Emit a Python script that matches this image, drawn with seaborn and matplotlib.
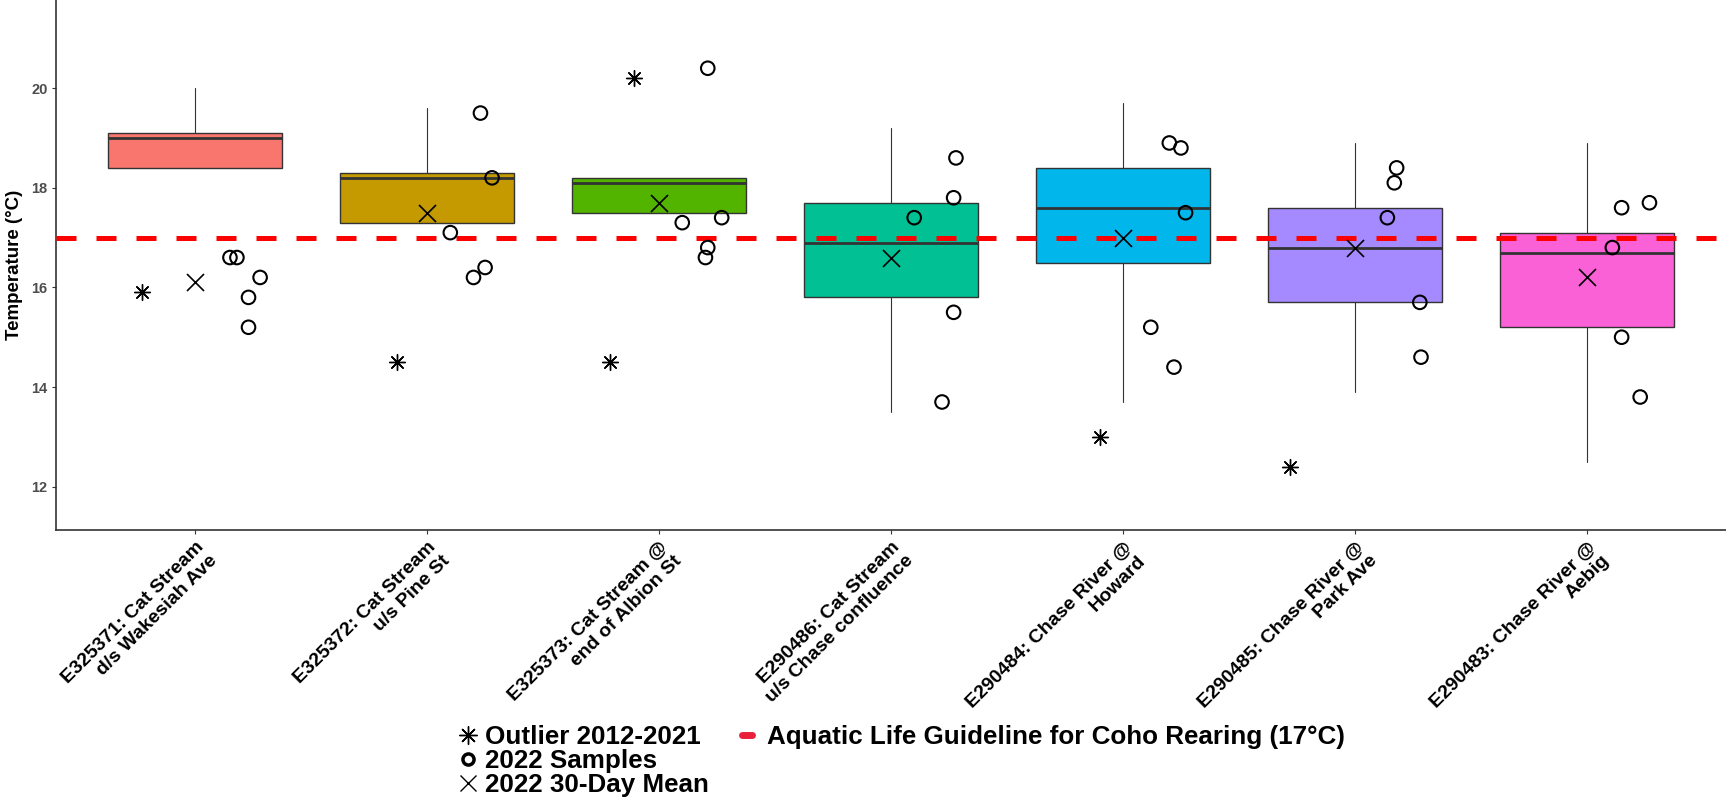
import numpy as np
import pandas as pd
import matplotlib
matplotlib.use("Agg")
import matplotlib.pyplot as plt
from matplotlib.lines import Line2D
import seaborn as sns

sns.set_theme(style="white")
plt.rcParams['font.family'] = ['Liberation Sans', 'DejaVu Sans']
plt.rcParams['text.color'] = 'black'
plt.rcParams['axes.labelcolor'] = 'black'

# ---------------- data ----------------
stations = [
    "E325371: Cat Stream\nd/s Wakesiah Ave",
    "E325372: Cat Stream\nu/s Pine St",
    "E325373: Cat Stream @\nend of Albion St",
    "E290486: Cat Stream\nu/s Chase confluence",
    "E290484: Chase River @\nHoward",
    "E290485: Chase River @\nPark Ave",
    "E290483: Chase River @\nAebig",
]
box_colors = ["#F8766D", "#C49A00", "#53B400", "#00C094", "#00B6EB", "#A58AFF", "#FB61D7"]

whisk_hi = [20.0, 19.6, 18.2, 19.2, 19.7, 18.9, 18.9]
q3 =       [19.1, 18.3, 18.2, 17.7, 18.4, 17.6, 17.1]
medians =  [19.0, 18.2, 18.1, 16.9, 17.6, 16.8, 16.7]
q1 =       [18.4, 17.3, 17.5, 15.8, 16.5, 15.7, 15.2]
whisk_lo = [18.4, 17.3, 17.5, 13.5, 13.7, 13.9, 12.5]

mean_30day = [16.1, 17.5, 17.7, 16.6, 17.0, 16.8, 16.2]

outlier_station = [0, 1, 2, 2, 4, 5]
outlier_value =   [15.9, 14.5, 20.2, 14.5, 13.0, 12.4]
outlier_jitter =  [-0.23, -0.13, -0.11, -0.21, -0.10, -0.28]

sample_station = [0]*5 + [1]*5 + [2]*5 + [3]*5 + [4]*5 + [5]*5 + [6]*5
sample_value = [16.6, 16.6, 16.2, 15.8, 15.2,
                19.5, 18.2, 17.1, 16.2, 16.4,
                20.4, 17.3, 17.4, 16.8, 16.6,
                18.6, 17.8, 17.4, 15.5, 13.7,
                18.9, 18.8, 17.5, 15.2, 14.4,
                18.4, 18.1, 17.4, 15.7, 14.6,
                17.6, 17.7, 16.8, 15.0, 13.8]
sample_jitter = [0.15, 0.18, 0.28, 0.23, 0.23,
                 0.23, 0.28, 0.10, 0.20, 0.25,
                 0.21, 0.10, 0.27, 0.21, 0.20,
                 0.28, 0.27, 0.10, 0.27, 0.22,
                 0.20, 0.25, 0.27, 0.12, 0.22,
                 0.18, 0.17, 0.14, 0.28, 0.285,
                 0.15, 0.27, 0.11, 0.15, 0.23]

guideline = 17.0
y_ticks = [12, 14, 16, 18, 20]

# ---------------- figure ----------------
fig = plt.figure(figsize=(17.26, 8.01), dpi=100)
ax = fig.add_axes([56/1726, 1-530/801, 1670/1726, 530/801])

stats = []
for i in range(len(stations)):
    stats.append(dict(med=medians[i], q1=q1[i], q3=q3[i],
                      whislo=whisk_lo[i], whishi=whisk_hi[i], fliers=[]))
bp = ax.bxp(stats, positions=range(len(stations)), widths=0.75,
            patch_artist=True, showfliers=False, showcaps=False,
            boxprops=dict(edgecolor="#333333", linewidth=1.0),
            medianprops=dict(color="#333333", linewidth=2.0),
            whiskerprops=dict(color="#333333", linewidth=0.8))
for patch, c in zip(bp['boxes'], box_colors):
    patch.set_facecolor(c)
    patch.set_zorder(2)

ax.axhline(guideline, color="#FF0000", lw=3.6, linestyle=(0, (4, 4)), zorder=3)

df_s = pd.DataFrame({"x": np.array(sample_station) + np.array(sample_jitter),
                     "temp": sample_value})
df_o = pd.DataFrame({"x": np.array(outlier_station) + np.array(outlier_jitter),
                     "temp": outlier_value})
df_m = pd.DataFrame({"x": np.arange(len(stations)), "temp": mean_30day})

sns.scatterplot(data=df_s, x="x", y="temp", ax=ax, marker="o", s=95,
                facecolor="none", edgecolor="black", linewidth=1.5, zorder=5)
sns.scatterplot(data=df_o, x="x", y="temp", ax=ax, marker=(8, 2, 0), s=130,
                color="black", linewidth=1.0, zorder=5)
sns.scatterplot(data=df_m, x="x", y="temp", ax=ax, marker="x", s=150,
                color="black", linewidth=1.2, zorder=5)

ax.set_xlim(-0.6, len(stations) - 0.4)
ax.set_ylim(11.13, 21.77)
ax.set_yticks(y_ticks)
ax.set_yticklabels([str(t) for t in y_ticks], fontsize=10.5, fontweight="bold", color="#4D4D4D")
ax.set_xticks(range(len(stations)))
ax.set_xticklabels(stations, rotation=45, ha="right", va="top", rotation_mode="anchor",
                   fontsize=14, fontweight="bold", color="black")
ax.tick_params(axis="both", length=3, width=0.8, color="#333333", pad=3, bottom=True, left=True)
ax.set_xlabel("")
ax.set_ylabel("Temperature (°C)", fontsize=13.5, fontweight="bold", labelpad=6, color="black")
for side in ["top", "right"]:
    ax.spines[side].set_visible(False)
for side in ["left", "bottom"]:
    ax.spines[side].set_color("#333333")
    ax.spines[side].set_linewidth(1.2)
ax.grid(False)

# legends
h1 = [Line2D([], [], marker=(8, 2, 0), color="black", linestyle="none", markersize=13, markeredgewidth=1.0),
      Line2D([], [], marker="o", markerfacecolor="none", markeredgecolor="black", linestyle="none",
             markersize=8, markeredgewidth=2.5),
      Line2D([], [], marker="x", color="black", linestyle="none", markersize=12, markeredgewidth=1.0)]
l1 = fig.legend(h1, ["Outlier 2012-2021", "2022 Samples", "2022 30-Day Mean"],
                loc="center left", bbox_to_anchor=(455/1726, 1-761/801), frameon=False,
                prop=dict(size=18.7, weight="bold"), labelspacing=0.0,
                handlelength=1.0, handletextpad=0.15, borderpad=0, borderaxespad=0,
                labelcolor="black")
h2 = [Line2D([], [], color="#E8203A", lw=5)]
l2 = fig.legend(h2, ["Aquatic Life Guideline for Coho Rearing (17°C)"],
                loc="center left", bbox_to_anchor=(742/1726, 1-737/801), frameon=False,
                prop=dict(size=18.7, weight="bold"),
                handlelength=0.4, handletextpad=0.55, borderpad=0, borderaxespad=0,
                labelcolor="black")

fig.savefig("out.png", dpi=100)
